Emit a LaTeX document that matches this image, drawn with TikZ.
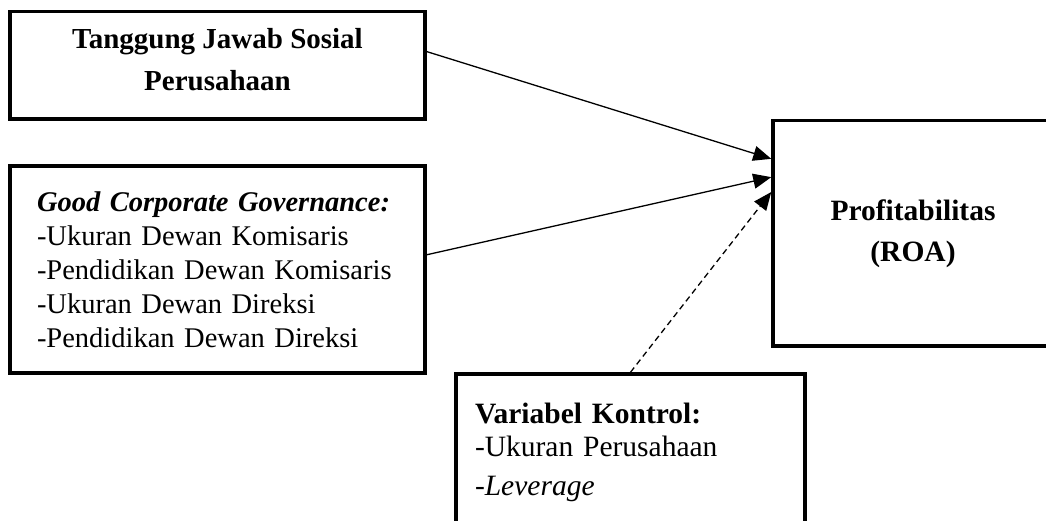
\documentclass[tikz,border=0pt]{standalone}
\usepackage{fontspec}
\setmainfont{Liberation Serif}
\usetikzlibrary{arrows.meta, calc}

\begin{document}
\begin{tikzpicture}[x=1pt, y=-1pt, >={Triangle[length=18pt,width=15pt]},
    box/.style={draw, line width=3.5pt, inner sep=0pt, font=\fontsize{28.5}{34}\selectfont},
    link/.style={->, line width=1.3pt}]
  \useasboundingbox (0,0) rectangle (1046,520);
  \node[box, minimum width=415pt, minimum height=107.5pt, align=center, text depth=12pt,
    font=\fontsize{29}{42}\selectfont\bfseries] (tjs) at (217.5,65.25)
    {Tanggung Jawab Sosial\\Perusahaan};
  \node[box, minimum width=415pt, minimum height=207pt, text width=361pt, align=left] (gcg)
    at (217.5,269.5) {\textbf{\textit{Good Corporate Governance:}}\\-Ukuran Dewan Komisaris\\
    -Pendidikan Dewan Komisaris\\-Ukuran Dewan Direksi\\-Pendidikan Dewan Direksi};
  \node[box, minimum width=280pt, minimum height=225.5pt, align=center,
    font=\fontsize{29.5}{41}\selectfont\bfseries] (roa) at (913,233.25)
    {Profitabilitas\\(ROA)};
  \node[box, minimum width=349pt, minimum height=156pt, text width=311pt, align=left,
    font=\fontsize{29.5}{33}\selectfont] (ctrl)
    at (630.5,452) {\textbf{Variabel Kontrol:}\\-Ukuran Perusahaan\\[6pt]-\textit{Leverage}};
  \draw[link] ($(tjs.north east)!0.377!(tjs.south east)$) -- ($(roa.north west)!0.175!(roa.south west)$);
  \draw[link] ($(gcg.north east)!0.43!(gcg.south east)$) -- ($(roa.north west)!0.255!(roa.south west)$);
  \draw[link, dash pattern=on 6pt off 4pt] (ctrl.north) -- ($(roa.north west)!0.32!(roa.south west)$);
\end{tikzpicture}
\end{document}
